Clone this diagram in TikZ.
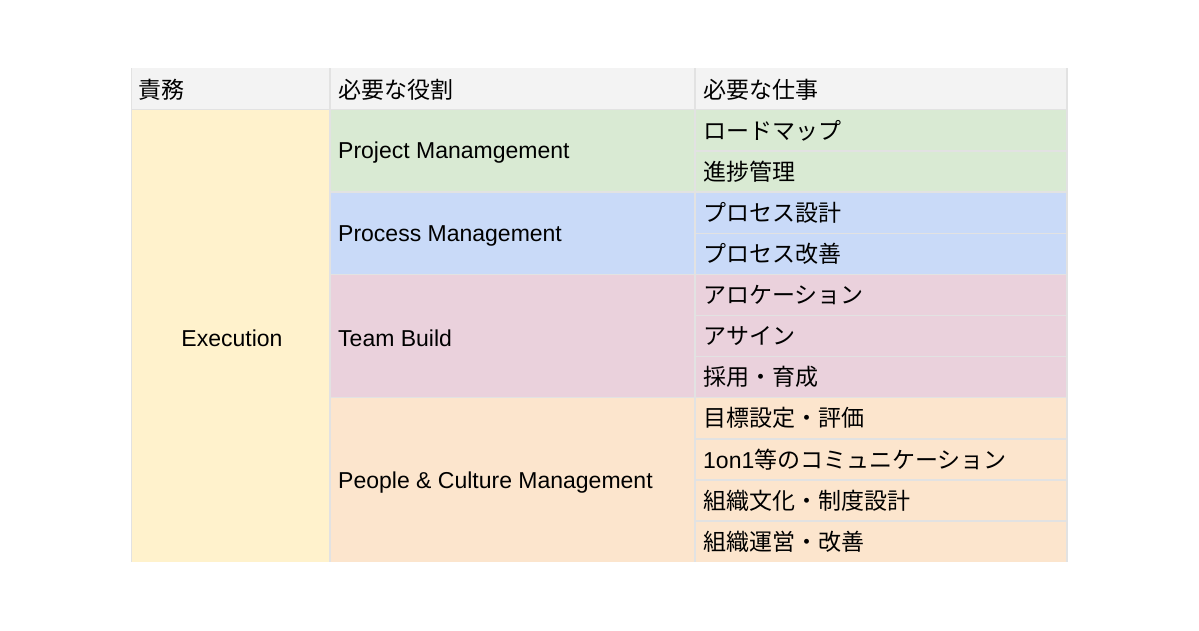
\documentclass[tikz,border=0pt]{standalone}
\usepackage{fontspec}
\setmainfont{Liberation Sans}
\newfontfamily\jp{Noto Sans CJK JP}
\definecolor{hdr}{HTML}{F3F3F3}
\definecolor{yel}{HTML}{FFF2CC}
\definecolor{grn}{HTML}{D9EAD3}
\definecolor{blu}{HTML}{C9DAF8}
\definecolor{pnk}{HTML}{EAD1DC}
\definecolor{org}{HTML}{FCE5CD}
\definecolor{grid}{HTML}{E2E2E2}
\begin{document}
\begin{tikzpicture}[x=1pt,y=-1pt,
  cell/.style={draw=grid,line width=1.5pt},
  txt/.style={anchor=west,inner sep=0pt,font=\fontsize{23}{26}\selectfont},
  jtxt/.style={txt,font=\fontsize{23}{26}\selectfont\jp}]
\useasboundingbox (0,0) rectangle (1199,630);
\fill[white] (0,0) rectangle (1199,630);
\def\rh{41.1}
% header
\fill[hdr] (131,68) rectangle (1067,110);
\draw[cell] (330,68) -- (330,110) (695,68) -- (695,110) (131,110) -- (1067,110);
\node[jtxt] (h1) at (138,90) {責務};
\node[jtxt] (h2) at (338,90) {必要な役割};
\node[jtxt] (h3) at (703,90) {必要な仕事};
% column 1
\fill[yel] (131,110) rectangle (330,562);
\node[txt,anchor=center] (ex) at (232,338) {Execution};
% groups
\foreach \c/\a/\n in {grn/0/2, blu/2/2, pnk/4/3, org/7/4}{
  \pgfmathsetmacro\ya{110+\a*\rh}
  \pgfmathsetmacro\yb{min(110+(\a+\n)*\rh,562)}
  \fill[\c] (330,\ya) rectangle (1067,\yb);
}
\foreach \i in {1,...,10}{
  \pgfmathsetmacro\y{110+\i*\rh}
  \draw[cell] (695,\y) -- (1067,\y);
}
\foreach \a in {2,4,7}{
  \pgfmathsetmacro\y{110+\a*\rh}
  \draw[cell] (330,\y) -- (695,\y);
}
\draw[cell] (330,68) -- (330,562) (695,68) -- (695,562) (1067,68) -- (1067,562);
\draw[grid,line width=0.8pt] (131,68) -- (131,562);
% role labels
\node[txt] (r1) at (338,153) {Project Manamgement};
\node[txt] (r2) at (338,236) {Process Management};
\node[txt] (r3) at (338,338) {Team Build};
\node[txt] (r4) at (338,483) {People \& Culture Management};
% tasks
\foreach \i/\t in {0/ロードマップ,1/進捗管理,2/プロセス設計,3/プロセス改善,4/アロケーション,5/アサイン,6/採用・育成,7/目標設定・評価,9/組織文化・制度設計,10/組織運営・改善}{
  \pgfmathsetmacro\y{110+(\i+0.5)*\rh}
  \node[jtxt] (t\i) at (703,\y) {\t};
}
\node[txt] (t8) at (703,{110+8.5*\rh}) {1on1{\jp 等のコミュニケーション}};
\end{tikzpicture}
\end{document}
